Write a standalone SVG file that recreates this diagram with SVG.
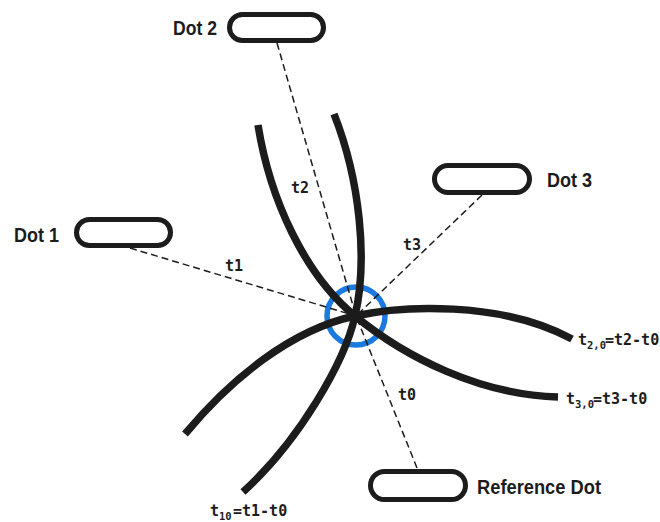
<svg xmlns="http://www.w3.org/2000/svg" width="660" height="522" viewBox="0 0 660 522">
  <style>
    .pill { fill: #ffffff; stroke: #1c1c1c; stroke-width: 5; }
    .name { font-family: "Liberation Sans", Arial, sans-serif; font-weight: bold; font-size: 20px; fill: #1c1c1c; }
    .time { font-family: "DejaVu Sans Mono", "Liberation Mono", monospace; font-weight: bold; font-size: 15px; fill: #1c1c1c; }
    .sub { font-family: "DejaVu Sans Mono", "Liberation Mono", monospace; font-weight: bold; font-size: 10.5px; fill: #1c1c1c; }
    .curve { fill: none; stroke: #1c1c1c; stroke-width: 7.5; stroke-linecap: butt; }
    .ray { fill: none; stroke: #1c1c1c; stroke-width: 1.5; stroke-dasharray: 7 4; }
  </style>
  <rect width="660" height="522" fill="#ffffff"/>

  <!-- intersection marker -->
  <circle id="fix" cx="356" cy="316" r="29" fill="none" stroke="#1a7ae0" stroke-width="5.5"/>

  <!-- hyperbolic TDOA curves -->
  <g id="curves">
    <path class="curve" d="M258,125 C270,200 305,275 355,316 C405,357 480,395 558,397"/>
    <path class="curve" d="M334,114 C360,180 368,260 355,316 C345,361 300,440 243,492"/>
    <path class="curve" d="M185,434 C230,380 290,330 355,316 C400,306 500,300 572,339"/>
  </g>

  <!-- ranging rays from each station to the fix -->
  <g id="connectors">
    <line class="ray" x1="277" y1="43" x2="356" y2="316"/>
    <line class="ray" x1="130" y1="248" x2="356" y2="316"/>
    <line class="ray" x1="482" y1="195" x2="356" y2="316"/>
    <line class="ray" x1="417" y1="468" x2="356" y2="316"/>
    <text class="time" x="225" y="271">t1</text>
    <text class="time" x="291" y="193">t2</text>
    <text class="time" x="403" y="250">t3</text>
    <text class="time" x="398" y="400">t0</text>
  </g>

  <!-- curve labels: t, subscript, difference -->
  <g id="label-t10">
    <text class="time" x="210" y="516">t</text>
    <text class="sub" x="219" y="520">10</text>
    <text class="time" x="233" y="516">=t1-t0</text>
  </g>
  <g id="label-t20">
    <text class="time" x="578" y="345">t</text>
    <text class="sub" x="587" y="349">2,0</text>
    <text class="time" x="605" y="345">=t2-t0</text>
  </g>
  <g id="label-t30">
    <text class="time" x="566" y="404">t</text>
    <text class="sub" x="575" y="408">3,0</text>
    <text class="time" x="593" y="404">=t3-t0</text>
  </g>

  <!-- stations -->
  <g id="dot2">
    <rect class="pill" x="229.5" y="14.5" width="94" height="26" rx="13"/>
    <text class="name" x="173" y="35" textLength="44" lengthAdjust="spacingAndGlyphs">Dot 2</text>
  </g>
  <g id="dot1">
    <rect class="pill" x="76.5" y="219.5" width="94" height="26" rx="13"/>
    <text class="name" x="14" y="242" textLength="45" lengthAdjust="spacingAndGlyphs">Dot 1</text>
  </g>
  <g id="dot3">
    <rect class="pill" x="434.5" y="165.5" width="95" height="27" rx="13.5"/>
    <text class="name" x="547" y="187" textLength="45" lengthAdjust="spacingAndGlyphs">Dot 3</text>
  </g>
  <g id="refdot">
    <rect class="pill" x="370.5" y="471.5" width="95" height="28" rx="14"/>
    <text class="name" x="477" y="494" textLength="124" lengthAdjust="spacingAndGlyphs">Reference Dot</text>
  </g>
</svg>
